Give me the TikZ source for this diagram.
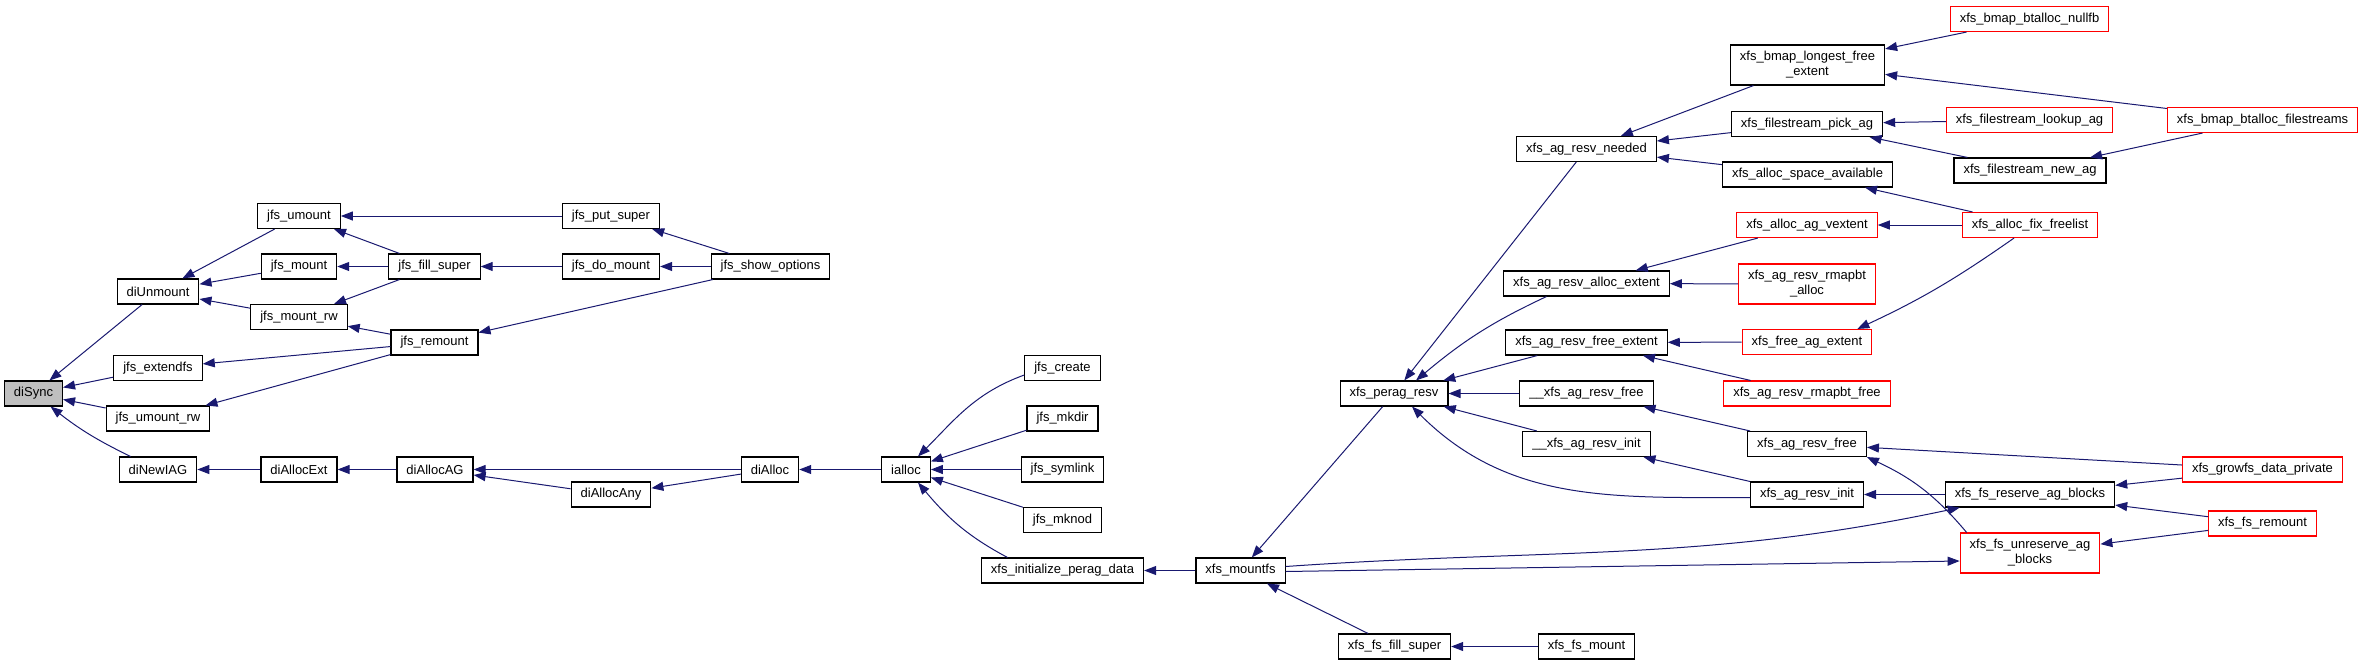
\documentclass[tikz,border=0pt]{standalone}
\usepackage{fontspec}
\setmainfont{Liberation Sans}
\usetikzlibrary{arrows.meta}
\definecolor{EdgeBlue}{HTML}{191970}
\definecolor{CutRed}{HTML}{FF0000}
\definecolor{RootGray}{HTML}{BFBFBF}

\begin{document}
\begin{tikzpicture}[x=1pt,y=-1pt,
    fnbox/.style={draw=black,line width=1.1pt,fill=white,minimum height=25pt,
      inner xsep=9.5pt,inner ysep=2pt,align=center,
      font=\fontsize{13}{15}\selectfont},
    cutbox/.style={fnbox,draw=CutRed},
    rootbox/.style={fnbox,fill=RootGray},
    callarr/.style={-{Triangle[length=12pt,width=9pt]},line width=1pt,EdgeBlue}
  ]
  \useasboundingbox (0,0) rectangle (2365,665);

  % the function itself
  \node[rootbox] (diSync) at (33.5,393.5) {diSync};

  % callers, column by column
  \foreach \nm/\x/\y/\txt in {
    diUnmount/158/291.5/diUnmount,
    jfsExtendfs/158/368/jfs\_extendfs,
    jfsUmountRw/158/418.5/jfs\_umount\_rw,
    diNewIAG/158/469.5/diNewIAG,
    jfsUmount/299/216/jfs\_umount,
    jfsMount/299/266.5/jfs\_mount,
    jfsMountRw/299/317/jfs\_mount\_rw,
    diAllocExt/299/469.5/diAllocExt,
    jfsFillSuper/434.5/266.5/jfs\_fill\_super,
    jfsRemount/434.5/342.5/jfs\_remount,
    diAllocAG/435/469.5/diAllocAG,
    jfsPutSuper/611/216/jfs\_put\_super,
    jfsDoMount/611/266.5/jfs\_do\_mount,
    diAllocAny/611/494.5/diAllocAny,
    jfsShowOptions/770.5/266.5/jfs\_show\_options,
    diAlloc/770/469.5/diAlloc,
    ialloc/906/469.5/ialloc,
    jfsCreate/1062.5/368/jfs\_create,
    jfsMkdir/1062.5/418.5/jfs\_mkdir,
    jfsSymlink/1062.5/469.5/jfs\_symlink,
    jfsMknod/1062.5/520/jfs\_mknod,
    xfsInitPerag/1062.5/570.5/xfs\_initialize\_perag\_data,
    xfsMountfs/1240.5/570.5/xfs\_mountfs,
    xfsPeragResv/1394/393.5/xfs\_perag\_resv,
    xfsFsFillSuper/1394.5/646.5/xfs\_fs\_fill\_super,
    agResvNeeded/1586.5/149/xfs\_ag\_resv\_needed,
    agResvAllocExt/1586.5/283.5/xfs\_ag\_resv\_alloc\_extent,
    agResvFreeExt/1586.5/342.5/xfs\_ag\_resv\_free\_extent,
    uAgResvFree/1586.5/393.5/\_\_xfs\_ag\_resv\_free,
    uAgResvInit/1586.5/444/\_\_xfs\_ag\_resv\_init,
    xfsFsMount/1586.5/646.5/xfs\_fs\_mount,
    pickAg/1807/124/xfs\_filestream\_pick\_ag,
    allocSpaceAvail/1807.5/174.5/xfs\_alloc\_space\_available,
    agResvFree/1807/444/xfs\_ag\_resv\_free,
    agResvInit/1807/494.5/xfs\_ag\_resv\_init,
    newAg/2030/170.5/xfs\_filestream\_new\_ag,
    reserveAg/2030/494.5/xfs\_fs\_reserve\_ag\_blocks}
    \node[fnbox] (\nm) at (\x,\y) {\txt};

  % truncated ones (red frame)
  \foreach \nm/\x/\y/\txt in {
    allocAgVextent/1807/225/xfs\_alloc\_ag\_vextent,
    freeAgExtent/1807/342/xfs\_free\_ag\_extent,
    rmapbtFree/1807/393.5/xfs\_ag\_resv\_rmapbt\_free,
    btallocNullfb/2029.5/19/xfs\_bmap\_btalloc\_nullfb,
    lookupAg/2029.5/120/xfs\_filestream\_lookup\_ag,
    fixFreelist/2030/225/xfs\_alloc\_fix\_freelist,
    btallocFilestreams/2262.5/120/xfs\_bmap\_btalloc\_filestreams,
    growfs/2262.5/469.5/xfs\_growfs\_data\_private,
    fsRemount/2262.5/523.5/xfs\_fs\_remount}
    \node[cutbox] (\nm) at (\x,\y) {\txt};

  % two-line labels
  \node[fnbox,minimum height=40pt] (bmapLongest) at (1807.5,65)
    {xfs\_bmap\_longest\_free\\\_extent};
  \node[cutbox,minimum height=40pt] (rmapbtAlloc) at (1807,284)
    {xfs\_ag\_resv\_rmapbt\\\_alloc};
  \node[cutbox,minimum height=40pt] (unreserveAg) at (2030,553)
    {xfs\_fs\_unreserve\_ag\\\_blocks};

  % caller -> callee
  \foreach \a/\b in {
    diUnmount/diSync, jfsExtendfs/diSync, jfsUmountRw/diSync,
    jfsUmount/diUnmount, jfsMount/diUnmount, jfsMountRw/diUnmount,
    jfsPutSuper/jfsUmount, jfsFillSuper/jfsUmount, jfsFillSuper/jfsMount,
    jfsFillSuper/jfsMountRw, jfsRemount/jfsMountRw, jfsRemount/jfsExtendfs,
    jfsRemount/jfsUmountRw, jfsDoMount/jfsFillSuper, jfsShowOptions/jfsPutSuper,
    jfsShowOptions/jfsDoMount, jfsShowOptions/jfsRemount,
    diAllocExt/diNewIAG, diAllocAG/diAllocExt, diAlloc/diAllocAG,
    diAllocAny/diAllocAG, diAlloc/diAllocAny, ialloc/diAlloc,
    jfsMkdir/ialloc, jfsSymlink/ialloc, jfsMknod/ialloc,
    xfsMountfs/xfsInitPerag, xfsPeragResv/xfsMountfs, xfsFsFillSuper/xfsMountfs,
    xfsFsMount/xfsFsFillSuper, agResvNeeded/xfsPeragResv,
    agResvFreeExt/xfsPeragResv, uAgResvFree/xfsPeragResv, uAgResvInit/xfsPeragResv,
    bmapLongest/agResvNeeded, pickAg/agResvNeeded, allocSpaceAvail/agResvNeeded,
    btallocNullfb/bmapLongest, btallocFilestreams/bmapLongest, lookupAg/pickAg,
    newAg/pickAg, btallocFilestreams/newAg,
    fixFreelist/allocSpaceAvail, fixFreelist/allocAgVextent,
    allocAgVextent/agResvAllocExt, rmapbtAlloc/agResvAllocExt,
    freeAgExtent/agResvFreeExt, rmapbtFree/agResvFreeExt,
    agResvFree/uAgResvFree, agResvInit/uAgResvInit,
    growfs/agResvFree, reserveAg/agResvInit, growfs/reserveAg,
    fsRemount/reserveAg, fsRemount/unreserveAg}
    \draw[callarr] (\a) -- (\b);

  % bent ones
  \draw[callarr] (diNewIAG) to[bend left=6] (diSync);
  \draw[callarr] ([yshift=-7pt]jfsCreate.west) to[out=200,in=45] ([xshift=12pt]ialloc.north);
  \draw[callarr] ([xshift=-55pt]xfsInitPerag.north) to[out=152,in=-50] ([xshift=12pt]ialloc.south);
  \draw[callarr] ([xshift=-40pt]agResvAllocExt.south) to[out=205,in=40] ([xshift=22pt]xfsPeragResv.north);
  \draw[callarr] ([yshift=-3pt]agResvInit.west) to[out=180,in=-45] ([xshift=18pt]xfsPeragResv.south);
  \draw[callarr] ([xshift=-16pt]fixFreelist.south) to[out=215,in=25] ([xshift=-15pt]freeAgExtent.north east);
  \draw[callarr] ([xshift=7pt]unreserveAg.north west) to[out=130,in=-25] (agResvFree.south east);
  \draw[callarr] ([yshift=4pt]xfsMountfs.east) to[out=4,in=192] ([xshift=15pt]reserveAg.south west);
  \draw[callarr] ([yshift=-1pt]xfsMountfs.east) -- ([yshift=-8pt]unreserveAg.west);
\end{tikzpicture}
\end{document}
